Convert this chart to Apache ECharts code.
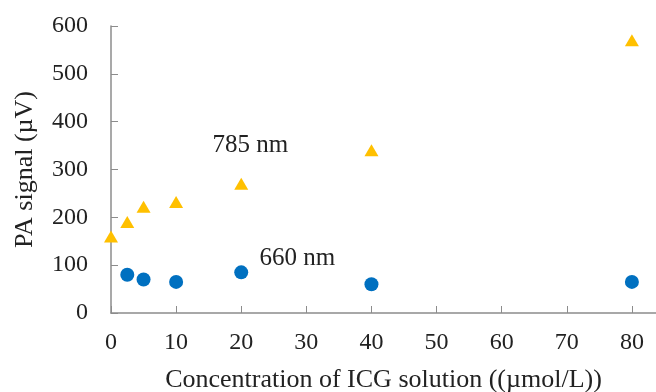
<!DOCTYPE html>
<html>
<head>
<meta charset="utf-8">
<script src="https://cdn.jsdelivr.net/npm/echarts@6/dist/echarts.min.js"></script>
<style>
html, body { margin: 0; padding: 0; background: #fff; }
#chart { width: 656px; height: 392px; }
</style>
</head>
<body>
<div id="chart"></div>
<script>
// 785 nm points (triangles)
var x785 = [0, 2.5, 5, 10, 20, 40, 80];
var y785 = [160, 190, 222, 232, 270, 340, 570];
// 660 nm points (circles)
var x660 = [2.5, 5, 10, 20, 40, 80];
var y660 = [80, 70, 65, 85, 60, 65];
var xTicks = [0, 10, 20, 30, 40, 50, 60, 70, 80];

function pairs(xs, ys) {
    var out = [];
    for (var i = 0; i < xs.length; i++) {
        out.push([xs[i], ys[i]]);
    }
    return out;
}

var font = '"Liberation Serif", "Times New Roman", serif';
var axisColor = '#8c8c8c';
var textColor = '#222';

// text label placed at a data position
function tag(text, x, y) {
    return {
        symbol: 'circle',
        symbolSize: 2,
        itemStyle: { color: 'rgba(0,0,0,0)' },
        label: { show: true, position: 'inside', formatter: text, fontFamily: font, fontSize: 25, color: textColor },
        data: [{ coord: [x, y] }]
    };
}

var myChart = echarts.init(document.getElementById('chart'));
var option = {
    animation: false,
    textStyle: { fontFamily: font },
    grid: { left: 111, right: 0, top: 26, bottom: 79, outerBoundsMode: 'none', containLabel: false },
    xAxis: {
        type: 'value',
        min: 0,
        max: 83.7,
        name: 'Concentration of ICG solution ((\u00b5mol/L))',
        nameLocation: 'middle',
        nameGap: 54,
        nameTextStyle: { fontFamily: font, fontSize: 26, color: textColor },
        splitLine: { show: false },
        axisLine: { lineStyle: { color: axisColor, width: 1.5 } },
        axisTick: { inside: true, length: 7, customValues: xTicks, lineStyle: { color: axisColor } },
        axisLabel: { customValues: xTicks, margin: 18, fontFamily: font, fontSize: 24, color: textColor }
    },
    yAxis: {
        type: 'value',
        min: 0,
        max: 600,
        interval: 100,
        name: 'PA signal (\u00b5V)',
        nameLocation: 'middle',
        nameGap: 73,
        nameTextStyle: { fontFamily: font, fontSize: 26, color: textColor },
        splitLine: { show: false },
        axisLine: { show: true, lineStyle: { color: axisColor, width: 1.5 } },
        axisTick: { show: true, inside: true, length: 7, lineStyle: { color: axisColor } },
        axisLabel: { margin: 23, fontFamily: font, fontSize: 24, color: textColor }
    },
    series: [{
        name: '785 nm',
        type: 'scatter',
        symbol: 'triangle',
        symbolSize: [14, 12],
        itemStyle: { color: '#FFC000', opacity: 1 },
        data: pairs(x785, y785),
        markPoint: tag('785 nm', 21.4, 351)
    }, {
        name: '660 nm',
        type: 'scatter',
        symbol: 'circle',
        symbolSize: 14,
        itemStyle: { color: '#0070C0', opacity: 1 },
        data: pairs(x660, y660),
        markPoint: tag('660 nm', 28.6, 115)
    }]
};
myChart.setOption(option);
</script>
</body>
</html>
